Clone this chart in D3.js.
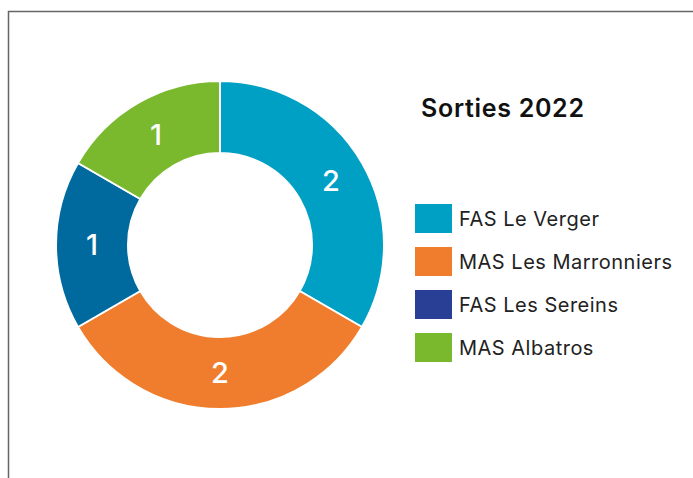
<!DOCTYPE html>
<html>
<head>
<meta charset="utf-8">
<script src="https://cdn.jsdelivr.net/npm/d3@7"></script>
<style>
  html, body { margin: 0; padding: 0; background: #fff; }
  #chart { width: 693px; height: 478px; }
</style>
</head>
<body>
<div id="chart"></div>
<script>
var labels = ['FAS Le Verger', 'MAS Les Marronniers', 'FAS Les Sereins', 'MAS Albatros'];
var values = [2, 2, 1, 1];
var sliceColors = ['#00a0c4', '#ef7d2d', '#006a9e', '#7ab92e'];
var legendColors = ['#00a0c4', '#ef7d2d', '#293f96', '#7ab92e'];
var title = 'Sorties 2022';

(function() {
  var FONT = 'Inter, "Open Sans", sans-serif';
  var w = 693, h = 478;
  var svg = d3.select('#chart').append('svg').attr('width', w).attr('height', h);

  // Frame (top and left edges)
  svg.append('path').attr('d', 'M8.5,' + h + 'V11.5H' + w)
    .attr('fill', 'none').attr('stroke', '#666').attr('stroke-width', 1.5);

  var cx = 220, cy = 245, outerR = 164, innerR = 92;
  var data = labels.map(function(l, i) { return { label: l, value: values[i], i: i }; });
  var pie = d3.pie().sort(null).value(function(d) { return d.value; });
  var arc = d3.arc().innerRadius(innerR).outerRadius(outerR);
  var labelArc = d3.arc().innerRadius((innerR + outerR) / 2).outerRadius((innerR + outerR) / 2);

  var g = svg.append('g').attr('transform', 'translate(' + cx + ',' + cy + ')');
  var arcs = pie(data);
  g.selectAll('path').data(arcs).join('path')
    .attr('d', arc)
    .attr('fill', function(d) { return sliceColors[d.data.i]; })
    .attr('stroke', '#fff').attr('stroke-width', 2);

  g.selectAll('text').data(arcs).join('text')
    .attr('transform', function(d) { return 'translate(' + labelArc.centroid(d) + ')'; })
    .attr('text-anchor', 'middle').attr('dy', '0.36em')
    .attr('fill', '#fff').attr('font-size', '29px').attr('font-weight', 500).attr('font-family', FONT)
    .text(function(d) { return d.data.value; });

  // Title
  svg.append('text').attr('x', 421).attr('y', 117)
    .attr('fill', '#111').attr('font-size', '25px').attr('font-weight', 600).attr('font-family', FONT)
    .attr('letter-spacing', '0.7px')
    .text(title);

  // Legend
  var lg = svg.append('g').attr('transform', 'translate(415,204)');
  labels.forEach(function(l, i) {
    var y = i * 43;
    lg.append('rect').attr('x', 0).attr('y', y).attr('width', 37).attr('height', 29).attr('fill', legendColors[i]);
    lg.append('text').attr('x', 44).attr('y', y + 21.5)
      .attr('fill', '#222').attr('font-size', '20px').attr('font-family', FONT)
      .attr('letter-spacing', '0.5px')
      .text(l);
  });
})();
</script>
</body>
</html>
